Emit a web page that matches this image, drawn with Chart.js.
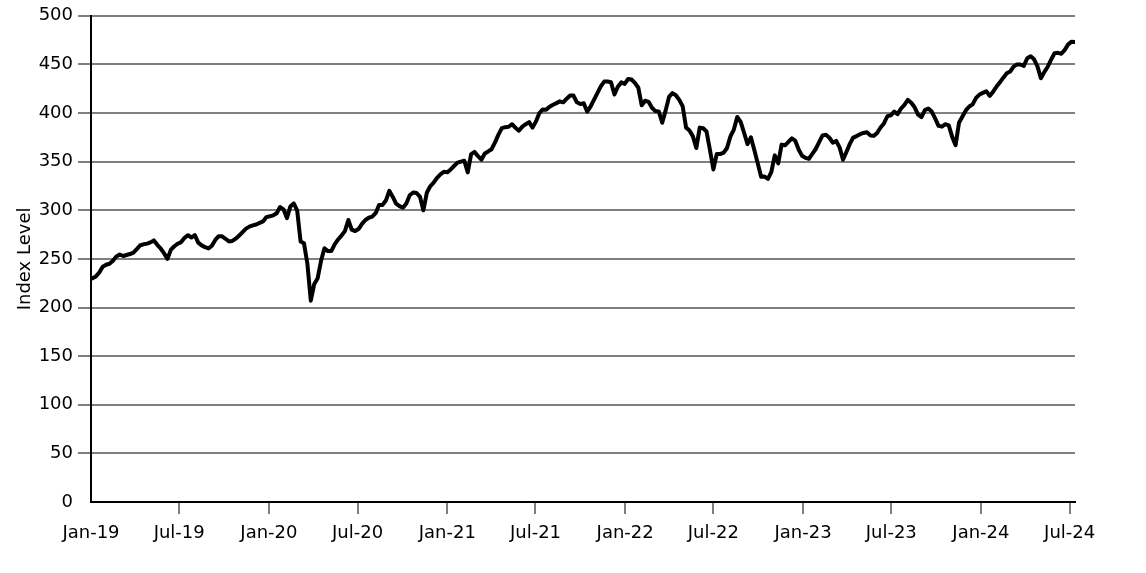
<!DOCTYPE html>
<html><head><meta charset="utf-8">
<script src="https://cdn.jsdelivr.net/npm/chart.js@4.4.1/dist/chart.umd.min.js"></script>
<style>html,body{margin:0;padding:0;background:#fff;}#wrap{width:1146px;height:573px;position:relative;}</style>
</head><body><div id="wrap"><canvas id="c" width="1146" height="573"></canvas></div>
<script>
// Weekly observations starting on this date (one value per week)
const startDate = '2019-01-04';
const indexValues = [
  230, 232, 236, 242, 244, 245, 248, 252.5, 254.5, 253,
  254, 255, 256.5, 260, 264, 265, 265.7, 267, 269, 264.5,
  260.7, 255.7, 250, 259.5, 263, 265.6, 267.3, 271.7, 274.4, 272,
  274.5, 266.7, 263.9, 262, 260.7, 263.6, 269.5, 273.4, 273.2, 270.7,
  268, 268.5, 270.8, 274, 277.6, 281.1, 283.2, 284.4, 285.4, 287,
  288.5, 293, 293.8, 294.8, 296.9, 303.3, 301, 292, 303.8, 307,
  300, 268, 266, 245, 207, 224, 230, 248, 261, 258,
  258, 265, 270, 274, 278.6, 290, 280, 278.6, 280.7, 286,
  290, 292.3, 293.4, 297, 305.4, 305.4, 310, 320, 314, 306.8,
  304.3, 302.6, 307, 315.5, 318.3, 317.7, 314, 300, 318, 324.7,
  328.4, 333.4, 336.9, 339.6, 339, 342, 345.5, 349, 350, 351,
  339, 357.8, 360, 355.7, 352, 358.4, 360.5, 362.8, 369.8, 377.8,
  384.5, 385.5, 385.9, 388.5, 384.8, 381.8, 386, 388.5, 390.6, 385,
  391.4, 400, 403.7, 403.5, 406.5, 408.5, 410.2, 412, 411, 414.8,
  418, 418, 411, 409.2, 410, 401.5, 406.7, 413.6, 420.5, 427.4,
  432.4, 432.5, 431.7, 419, 427, 431.5, 430, 435, 434.5, 431,
  426, 408, 412.7, 411.5, 405.4, 402, 401.7, 390, 402.5, 416.6,
  420.5, 418.3, 413.5, 407, 385, 382, 376, 364, 385, 384.4,
  381, 362, 342, 358, 357.8, 359.2, 364, 376, 383, 396,
  391, 379.7, 368, 375, 362, 348.4, 334.4, 334.7, 332.3, 339.6,
  356.5, 348.3, 367.5, 366.8, 370.3, 374, 371.6, 362.5, 356, 353.9,
  353, 358, 363, 370, 377, 377.7, 374.6, 369.6, 371.3, 364.7,
  352, 360, 368.3, 374.8, 376.3, 378.2, 379.5, 380.3, 377, 376.5,
  379.4, 385.1, 389.3, 396.7, 397.6, 401.5, 398.9, 404.6, 408.3, 413.5,
  410.6, 405.9, 398.3, 395.8, 403, 404.7, 401.5, 394.5, 386.8, 386,
  388.5, 387.3, 375.5, 367, 390, 396.5, 402.7, 406.7, 408.9, 415.6,
  419, 420.7, 422.4, 417.6, 422, 427.2, 431.7, 436.4, 440.8, 442.7,
  447.7, 450, 449.9, 448.5, 456.3, 458.4, 455.3, 448, 435.7, 442.1,
  447.6, 454.9, 461.5, 461.9, 460.9, 465, 470.6, 473.4, 473
];
const tickDates = ['2019-01-01','2019-07-01','2020-01-01','2020-07-01','2021-01-01','2021-07-01',
  '2022-01-01','2022-07-01','2023-01-01','2023-07-01','2024-01-01','2024-07-01'];
const tickLabels = ['Jan-19','Jul-19','Jan-20','Jul-20','Jan-21','Jul-21',
  'Jan-22','Jul-22','Jan-23','Jul-23','Jan-24','Jul-24'];
const yTickValues = [0, 50, 100, 150, 200, 250, 300, 350, 400, 450, 500];
const yAxisTitle = 'Index Level';

const DAY = 86400000;
const origin = Date.UTC(2019, 0, 1);
function dayOf(s) { const p = s.split('-').map(Number); return (Date.UTC(p[0], p[1]-1, p[2]) - origin) / DAY; }
const startDay = dayOf(startDate);
const points = indexValues.map((v, i) => ({ x: startDay + 7 * i, y: v }));
const tickDays = tickDates.map(dayOf);
const lastDay = points[points.length - 1].x;

const FONT = { family: 'DejaVu Sans', size: 18 };
const GRID = 'rgb(128,128,128)';

new Chart(document.getElementById('c'), {
  type: 'line',
  data: { datasets: [{
    data: points, borderColor: '#000', borderWidth: 4, pointRadius: 0,
    tension: 0, fill: false, borderJoinStyle: 'round', borderCapStyle: 'round'
  }]},
  options: {
    responsive: false, animation: false, devicePixelRatio: 1,
    layout: { padding: { left: 0, top: 11, right: 71, bottom: 0 } },
    plugins: { legend: { display: false }, tooltip: { enabled: false } },
    scales: {
      x: {
        type: 'linear', min: 0, max: lastDay,
        afterBuildTicks: s => { s.ticks = tickDays.map(v => ({ value: v })); },
        afterFit: s => { s.height = 71; },
        ticks: { autoSkip: false, maxRotation: 0, font: FONT, color: '#000', padding: 9,
          callback: (v) => { const k = tickDays.indexOf(v); return k >= 0 ? tickLabels[k] : ''; } },
        grid: { drawOnChartArea: false, drawTicks: true, tickLength: 12, lineWidth: 2,
          color: c => (c.tick && c.tick.value === 0) ? 'rgba(0,0,0,0)' : GRID },
        border: { display: true, color: '#000', width: 2 }
      },
      y: {
        type: 'linear', min: 0, max: 500,
        afterBuildTicks: s => { s.ticks = yTickValues.map(v => ({ value: v })); },
        afterFit: s => { s.width = 91; },
        ticks: { font: FONT, color: '#000', padding: 5 },
        grid: { drawTicks: true, tickLength: 13, lineWidth: 2,
          color: c => (c.tick && c.tick.value === 0) ? 'rgba(0,0,0,0)' : GRID },
        border: { display: true, color: '#000', width: 2 },
        title: { display: true, text: yAxisTitle, font: FONT, color: '#000', padding: { top: 15, bottom: 0 } }
      }
    }
  }
});
</script></body></html>
